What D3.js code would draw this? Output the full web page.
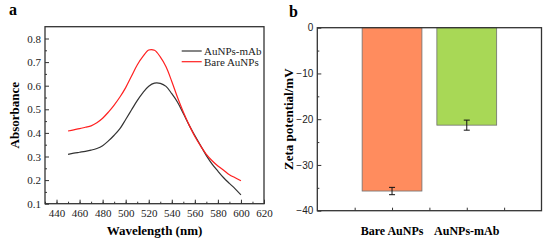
<!DOCTYPE html>
<html>
<head>
<meta charset="utf-8">
<script src="https://cdn.jsdelivr.net/npm/d3@7"></script>
<style>
  body { margin: 0; background: #fff; }
  svg { display: block; }
</style>
</head>
<body>
<script>
// Data
let wavelengths = [450, 455, 460, 465, 470, 475, 480, 485, 490, 495, 500, 505, 510, 515, 520, 525,
    530, 535, 540, 545, 550, 555, 560, 565, 570, 575, 580, 585, 590, 595, 600];
let bareAbs = [0.408, 0.413, 0.418, 0.424, 0.430, 0.443, 0.462, 0.488, 0.518, 0.552, 0.592, 0.640,
    0.688, 0.724, 0.751, 0.750, 0.722, 0.680, 0.618, 0.550, 0.489, 0.434, 0.385, 0.345, 0.309,
    0.282, 0.260, 0.242, 0.223, 0.210, 0.197];
let mabAbs = [0.309, 0.314, 0.318, 0.322, 0.327, 0.334, 0.346, 0.366, 0.390, 0.418, 0.457, 0.497,
    0.537, 0.571, 0.598, 0.611, 0.610, 0.597, 0.566, 0.530, 0.482, 0.433, 0.389, 0.346, 0.304,
    0.268, 0.238, 0.210, 0.186, 0.163, 0.137];
let seriesNames = ['AuNPs-mAb', 'Bare AuNPs'];
let seriesColors = ['#333333', '#ff2020'];

let samples = ['Bare AuNPs', 'AuNPs-mAb'];
let zeta = [-35.7, -21.3];
let zetaErr = [0.8, 1.1];
let barColors = ['#ff8c5e', '#a8d856'];

let xTicksA = d3.range(440, 621, 20);
let yTicksA = [0.1, 0.2, 0.3, 0.4, 0.5, 0.6, 0.7, 0.8];
let yTicksB = [0, -10, -20, -30, -40];

let width = 550, height = 242;
let serif = '"Liberation Serif", "Times New Roman", serif';
let sans = '"Liberation Sans", Arial, sans-serif';

let svg = d3.select('body')
    .append('svg')
    .attr('width', width)
    .attr('height', height);

// ---------- Panel a ----------
let a = { left: 45, right: 264, top: 26.7, bottom: 203.7 };

let xA = d3.scaleLinear().domain([430, 620]).range([a.left, a.right]);
let yA = d3.scaleLinear().domain([0.1, 0.85]).range([a.bottom, a.top]);

// minor ticks
svg.append('g')
    .attr('transform', `translate(0,${a.bottom})`)
    .call(d3.axisTop(xA).tickValues(d3.range(430, 621, 10)).tickSize(2).tickFormat(''))
    .call(g => g.select('.domain').remove())
    .selectAll('line').attr('stroke', '#333');
svg.append('g')
    .attr('transform', `translate(${a.left},0)`)
    .call(d3.axisRight(yA).tickValues(d3.range(0.15, 0.85, 0.1)).tickSize(2).tickFormat(''))
    .call(g => g.select('.domain').remove())
    .selectAll('line').attr('stroke', '#333');

let xAxisA = svg.append('g')
    .attr('transform', `translate(0,${a.bottom})`)
    .attr('font-family', serif)
    .call(d3.axisTop(xA).tickValues(xTicksA).tickSize(4).tickFormat(d3.format('d')));
xAxisA.attr('font-family', serif);
xAxisA.select('.domain').remove();
xAxisA.selectAll('line').attr('stroke', '#333');
xAxisA.selectAll('text')
    .attr('y', 13)
    .attr('dy', 0)
    .style('font-family', serif)
    .style('font-size', '11px')
    .style('fill', '#222');

let yAxisA = svg.append('g')
    .attr('transform', `translate(${a.left},0)`)
    .call(d3.axisRight(yA).tickValues(yTicksA).tickSize(4).tickFormat(d3.format('.1f')));
yAxisA.attr('font-family', serif);
yAxisA.select('.domain').remove();
yAxisA.selectAll('line').attr('stroke', '#333');
yAxisA.selectAll('text')
    .attr('x', -4)
    .attr('text-anchor', 'end')
    .style('font-family', serif)
    .style('font-size', '11px')
    .style('fill', '#222');

svg.append('rect')
    .attr('x', a.left).attr('y', a.top)
    .attr('width', a.right - a.left).attr('height', a.bottom - a.top)
    .attr('fill', 'none').attr('stroke', '#333').attr('stroke-width', 1.3);

let line = d3.line()
    .x((d, i) => xA(wavelengths[i]))
    .y(d => yA(d))
    .curve(d3.curveCatmullRom);

[mabAbs, bareAbs].forEach((vals, i) => {
    svg.append('path')
        .datum(vals)
        .attr('d', line)
        .attr('fill', 'none')
        .attr('stroke', seriesColors[i])
        .attr('stroke-width', 1.2);
});

// legend
seriesNames.forEach((name, i) => {
    let ly = 51 + i * 10.7;
    svg.append('line')
        .attr('x1', 181.7).attr('x2', 201.7)
        .attr('y1', ly).attr('y2', ly)
        .attr('stroke', seriesColors[i]).attr('stroke-width', 1.2);
    svg.append('text')
        .attr('x', 204).attr('y', ly + 3.8)
        .style('font-family', serif).style('font-size', '11px').style('fill', '#222')
        .text(name);
});

svg.append('text')
    .attr('x', (a.left + a.right) / 2).attr('y', 235)
    .attr('text-anchor', 'middle')
    .style('font-family', serif).style('font-size', '13px').style('font-weight', 'bold')
    .text('Wavelength (nm)');

svg.append('text')
    .attr('transform', `translate(19,${(a.top + a.bottom) / 2}) rotate(-90)`)
    .attr('text-anchor', 'middle')
    .style('font-family', serif).style('font-size', '13px').style('font-weight', 'bold')
    .text('Absorbance');

svg.append('text')
    .attr('x', 9).attr('y', 15)
    .style('font-family', serif).style('font-size', '16px').style('font-weight', 'bold')
    .text('a');

// ---------- Panel b ----------
let b = { left: 317.3, right: 541.5, top: 27.7, bottom: 210.7 };

let xB = d3.scaleLinear().domain([0, 3]).range([b.left, b.right]);
let yB = d3.scaleLinear().domain([-40, 0]).range([b.bottom, b.top]);

let barW = xB(0.8) - xB(0);

svg.selectAll('.bar')
    .data(zeta)
    .enter()
    .append('rect')
    .attr('class', 'bar')
    .attr('x', (d, i) => xB(i + 1) - barW / 2)
    .attr('y', yB(0))
    .attr('width', barW)
    .attr('height', d => yB(d) - yB(0))
    .attr('fill', (d, i) => barColors[i])
    .attr('stroke', '#6f6f6f')
    .attr('stroke-width', 0.8);

// error bars
zeta.forEach((d, i) => {
    let cx = xB(i + 1);
    let g = svg.append('g').attr('stroke', '#111').attr('stroke-width', 1);
    g.append('line').attr('x1', cx).attr('x2', cx)
        .attr('y1', yB(d - zetaErr[i])).attr('y2', yB(d + zetaErr[i]));
    [d - zetaErr[i], d + zetaErr[i]].forEach(v => {
        g.append('line').attr('x1', cx - 3).attr('x2', cx + 3)
            .attr('y1', yB(v)).attr('y2', yB(v));
    });
});

svg.append('g')
    .attr('transform', `translate(${b.left},0)`)
    .call(d3.axisRight(yB).tickValues(d3.range(-35, 0, 10)).tickSize(2).tickFormat(''))
    .call(g => g.select('.domain').remove())
    .selectAll('line').attr('stroke', '#333');

svg.append('g')
    .attr('transform', `translate(0,${b.bottom})`)
    .call(d3.axisTop(xB).tickValues([0.5, 1, 1.5, 2, 2.5]).tickSize(3).tickFormat(''))
    .call(g => g.select('.domain').remove())
    .selectAll('line').attr('stroke', '#333');

let yAxisB = svg.append('g')
    .attr('transform', `translate(${b.left},0)`)
    .call(d3.axisRight(yB).tickValues(yTicksB).tickSize(4).tickFormat(d3.format('d')));
yAxisB.select('.domain').remove();
yAxisB.selectAll('line').attr('stroke', '#333');
yAxisB.selectAll('text')
    .attr('x', -4)
    .attr('text-anchor', 'end')
    .style('font-family', sans)
    .style('font-size', '10px')
    .style('fill', '#222');

svg.append('rect')
    .attr('x', b.left).attr('y', b.top)
    .attr('width', b.right - b.left).attr('height', b.bottom - b.top)
    .attr('fill', 'none').attr('stroke', '#333').attr('stroke-width', 1.3);

svg.selectAll('.cat')
    .data(samples)
    .enter()
    .append('text')
    .attr('class', 'cat')
    .attr('x', (d, i) => xB(i + 1))
    .attr('y', 235)
    .attr('text-anchor', 'middle')
    .style('font-family', serif).style('font-size', '12px').style('font-weight', 'bold')
    .text(d => d);

svg.append('text')
    .attr('transform', `translate(293,${(b.top + b.bottom) / 2}) rotate(-90)`)
    .attr('text-anchor', 'middle')
    .style('font-family', serif).style('font-size', '13px').style('font-weight', 'bold')
    .text('Zeta potential/mV');

svg.append('text')
    .attr('x', 289).attr('y', 17)
    .style('font-family', serif).style('font-size', '16px').style('font-weight', 'bold')
    .text('b');
</script>
</body>
</html>
